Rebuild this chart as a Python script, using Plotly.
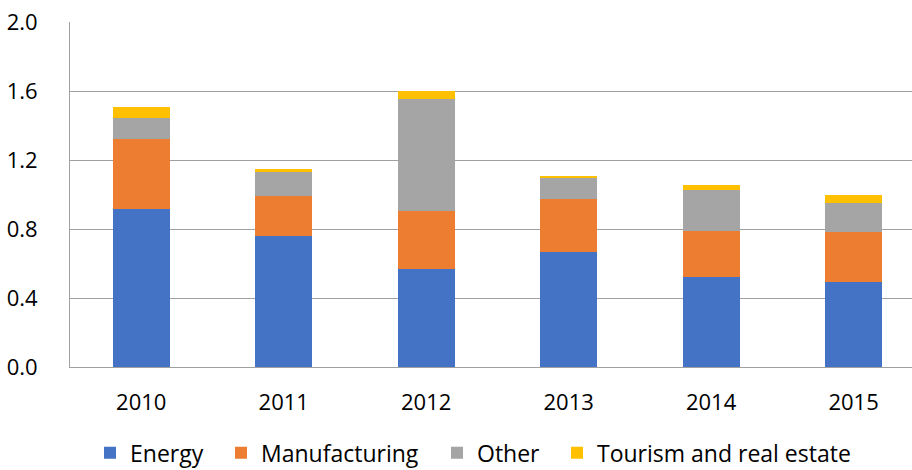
import plotly.graph_objects as go

years = ["2010", "2011", "2012", "2013", "2014", "2015"]
energy = [0.918, 0.757, 0.568, 0.664, 0.523, 0.490]
manufacturing = [0.402, 0.233, 0.337, 0.312, 0.266, 0.292]
other = [0.121, 0.139, 0.646, 0.118, 0.236, 0.169]
tourism = [0.067, 0.017, 0.050, 0.014, 0.031, 0.045]
y_ticks = [0.0, 0.4, 0.8, 1.2, 1.6, 2.0]

series = [
    ("Energy", energy, "#4472C4"),
    ("Manufacturing", manufacturing, "#ED7D31"),
    ("Other", other, "#A5A5A5"),
    ("Tourism and real estate", tourism, "#FFC000"),
]

font_family = "'Open Sans', Lato, sans-serif"
FS = 22
LEGEND_FS = 23

# plot area in pixels (left, right, top, bottom)
L, R, T, B = 70, 912, 22, 367.5
W, H = 912, 470

# left edges of legend squares, one legend box per series
legend_square_left = [104, 235, 451, 571]
legend_bottom = H + 5

fig = go.Figure()
legend_keys = ["legend", "legend2", "legend3", "legend4"]
for (name, vals, color), key in zip(series, legend_keys):
    fig.add_trace(go.Bar(
        x=years, y=vals, name=name,
        marker=dict(color=color, line=dict(width=0)),
        width=0.4, legend=key,
    ))

legend_layout = {}
for key, sx in zip(legend_keys, legend_square_left):
    legend_layout[key] = dict(
        x=(sx - 14 - L) / (R - L), xanchor="left",
        y=(B - legend_bottom) / (B - T), yanchor="bottom",
        orientation="h", font=dict(size=LEGEND_FS, family=font_family),
        bgcolor="rgba(0,0,0,0)", borderwidth=0, itemwidth=30,
    )

fig.update_layout(
    barmode="stack",
    width=W, height=H,
    margin=dict(l=L, r=W - R, t=T, b=H - B, autoexpand=False),
    plot_bgcolor="white", paper_bgcolor="white",
    font=dict(family=font_family, size=FS, color="#000000"),
    showlegend=True,
    xaxis=dict(
        range=[-0.5, 5.41], showgrid=False, showline=True,
        linecolor="#A0A0A0", linewidth=1, ticks="", ticklabelstandoff=16,
        tickfont=dict(size=FS),
    ),
    yaxis=dict(
        range=[0, 2.0], tickvals=y_ticks,
        ticktext=[f"{v:.1f}" for v in y_ticks],
        showgrid=True, gridcolor="#A0A0A0", gridwidth=1,
        showline=True, linecolor="#A0A0A0", linewidth=1,
        zeroline=False, ticks="", ticklabelstandoff=27,
        tickfont=dict(size=FS),
    ),
    **legend_layout,
)

fig.write_html("out.html")
